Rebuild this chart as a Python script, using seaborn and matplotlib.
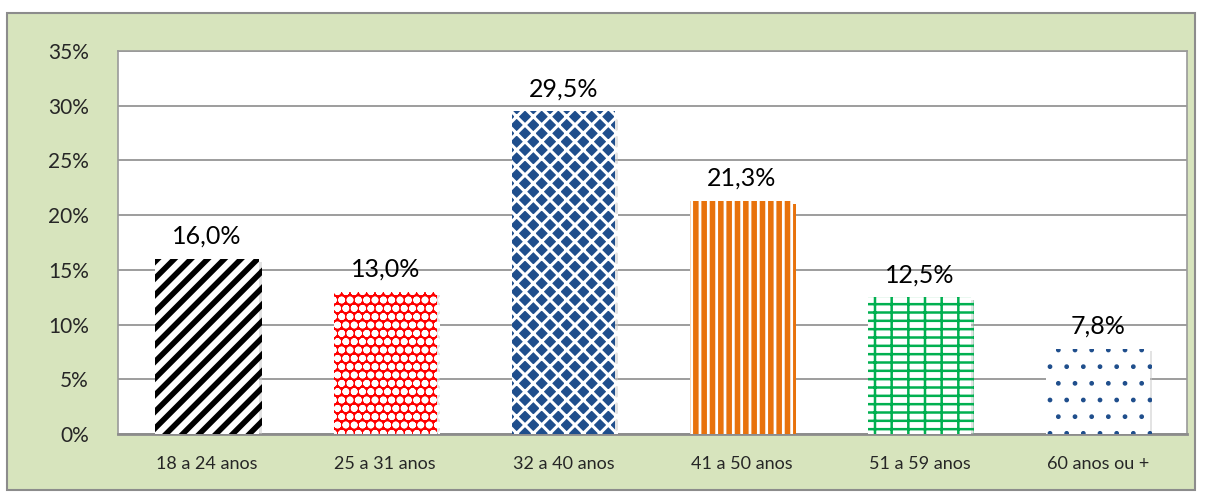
import matplotlib
matplotlib.use("Agg")
import matplotlib.pyplot as plt
import matplotlib.patches as mpatches
import matplotlib.patheffects as pe
import seaborn as sns
import pandas as pd

# data
faixas = ["18 a 24 anos", "25 a 31 anos", "32 a 40 anos", "41 a 50 anos", "51 a 59 anos", "60 anos ou +"]
valores = [16.0, 13.0, 29.5, 21.3, 12.5, 7.8]
rotulos = ["16,0%", "13,0%", "29,5%", "21,3%", "12,5%", "7,8%"]

# bar fill styles: (face, hatch colour, hatch, hatch width)
estilos = [
    ("white", "black", "//", 4.0),
    ("#FF0000", "white", "oo", 2.5),
    ("#1F4E8C", "white", "xx", 2.2),
    ("white", "#E8720C", "||", 4.0),
    ("white", "#00B050", "--|", 1.8),
    ("white", "#1F4E8C", ".", 1.0),
]

sns.set_style("white")
plt.rcParams["font.family"] = ["Lato", "DejaVu Sans"]

df = pd.DataFrame({"faixa": faixas, "valor": valores})

fig = plt.figure(figsize=(12.05, 4.95), dpi=100)
fig.patch.set_facecolor("white")
fig.patches.append(mpatches.Rectangle((7 / 1205, 5 / 495), 1188 / 1205, 477 / 495,
                                      transform=fig.transFigure, facecolor="#D7E4BD",
                                      edgecolor="#8C8C8C", linewidth=1.5, zorder=-1))

ax = fig.add_axes([118 / 1205, 61 / 495, 1069 / 1205, 383 / 495])
ax.set_zorder(1)
ax.set_facecolor("white")

sns.barplot(data=df, x="faixa", y="valor", ax=ax, width=0.58, color="white", zorder=3)

for p, (face, hc, hatch, hw) in zip(ax.patches, estilos):
    p.set_facecolor(face)
    p.set_edgecolor(hc)
    p.set_linewidth(0)
    p.set_hatch(hatch)
    try:
        p.set_hatch_linewidth(hw)
    except AttributeError:
        pass
    p.set_path_effects([pe.SimplePatchShadow(offset=(2, -2), shadow_rgbFace="#C8C8C8", alpha=0.5),
                        pe.Normal()])

for i, (v, t) in enumerate(zip(valores, rotulos)):
    ax.text(i, v + 1.0, t, ha="center", va="bottom", fontsize=18, color="black", zorder=5)

ax.set_ylim(0, 35)
ax.set_yticks(range(0, 36, 5))
ax.set_yticklabels([f"{y}%" for y in range(0, 36, 5)], fontsize=15)
ax.tick_params(axis="x", labelsize=13, length=0, pad=16)
ax.tick_params(axis="y", length=0, pad=21)
ax.set_xlabel("")
ax.set_ylabel("")
ax.yaxis.grid(True, color="#8C8C8C", linewidth=1.2, zorder=0)
ax.set_axisbelow(True)
for s in ["top", "left", "right"]:
    ax.spines[s].set_color("#9A9A9A")
    ax.spines[s].set_linewidth(1.2)
ax.spines["bottom"].set_color("#8C8C8C")
ax.spines["bottom"].set_linewidth(2)

fig.savefig("out.png", dpi=100, facecolor=fig.get_facecolor())
